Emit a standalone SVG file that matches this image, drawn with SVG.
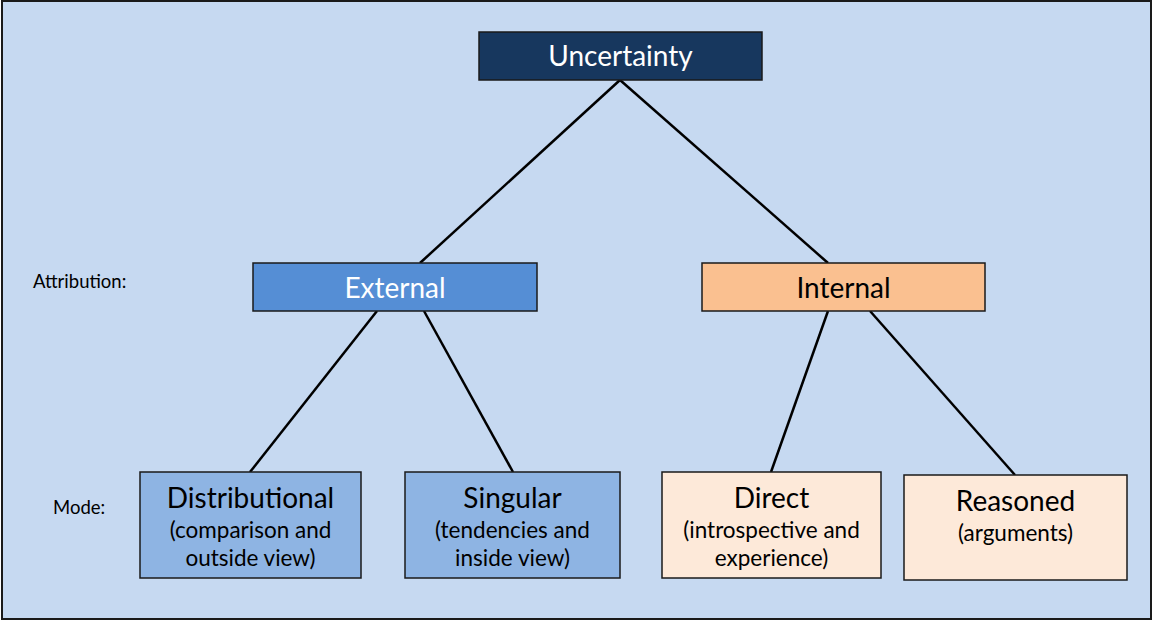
<svg xmlns="http://www.w3.org/2000/svg" width="1153" height="621" viewBox="0 0 1153 621">
<style>
.box{stroke:#1a1a1a;stroke-width:1.5}
.t{font-family:Lato,"Open Sans","Liberation Sans",sans-serif;text-anchor:middle}
.big{font-size:28px}
.sub{font-size:22.5px}
.lab{font-family:Lato,"Open Sans","Liberation Sans",sans-serif;font-size:18.5px;fill:#000}
.con line{stroke:#000;stroke-width:2.5}
</style>
<rect x="2" y="1" width="1149" height="618" fill="#c6d9f1" stroke="#1a1a1a" stroke-width="2"/>
<text class="lab" x="33" y="288">Attribution:</text>
<text class="lab" x="53" y="514">Mode:</text>
<g class="con">
<line x1="620" y1="80" x2="420" y2="263"/>
<line x1="620" y1="80" x2="828" y2="263"/>
<line x1="377" y1="311" x2="250" y2="472"/>
<line x1="424" y1="311" x2="513" y2="472"/>
<line x1="828" y1="311" x2="771" y2="472"/>
<line x1="870" y1="311" x2="1015" y2="475"/>
</g>
<g id="uncertainty">
<rect class="box" x="479" y="32" width="283" height="48" fill="#17375e"/>
<text class="t big" x="620.5" y="66" fill="#fff">Uncertainty</text>
</g>
<g id="external">
<rect class="box" x="253" y="263" width="284" height="48" fill="#558ed5"/>
<text class="t big" x="395" y="298" fill="#fff">External</text>
</g>
<g id="internal">
<rect class="box" x="702" y="263" width="283" height="48" fill="#fac090"/>
<text class="t big" x="843.5" y="298" fill="#000">Internal</text>
</g>
<g id="distributional">
<rect class="box" x="140" y="472" width="221" height="106" fill="#8eb4e3"/>
<text class="t big" x="250.5" y="508">Distributional</text>
<text class="t sub" x="250.5" y="538">(comparison and</text>
<text class="t sub" x="250.5" y="566">outside view)</text>
</g>
<g id="singular">
<rect class="box" x="405" y="472" width="215" height="106" fill="#8eb4e3"/>
<text class="t big" x="512.5" y="508">Singular</text>
<text class="t sub" x="512.5" y="538">(tendencies and</text>
<text class="t sub" x="512.5" y="566">inside view)</text>
</g>
<g id="direct">
<rect class="box" x="662" y="472" width="219" height="106" fill="#fde9d9"/>
<text class="t big" x="771.5" y="508">Direct</text>
<text class="t sub" x="771.5" y="538">(introspective and</text>
<text class="t sub" x="771.5" y="566">experience)</text>
</g>
<g id="reasoned">
<rect class="box" x="904" y="475" width="223" height="105" fill="#fde9d9"/>
<text class="t big" x="1015.5" y="511">Reasoned</text>
<text class="t sub" x="1015.5" y="541">(arguments)</text>
</g>
</svg>
